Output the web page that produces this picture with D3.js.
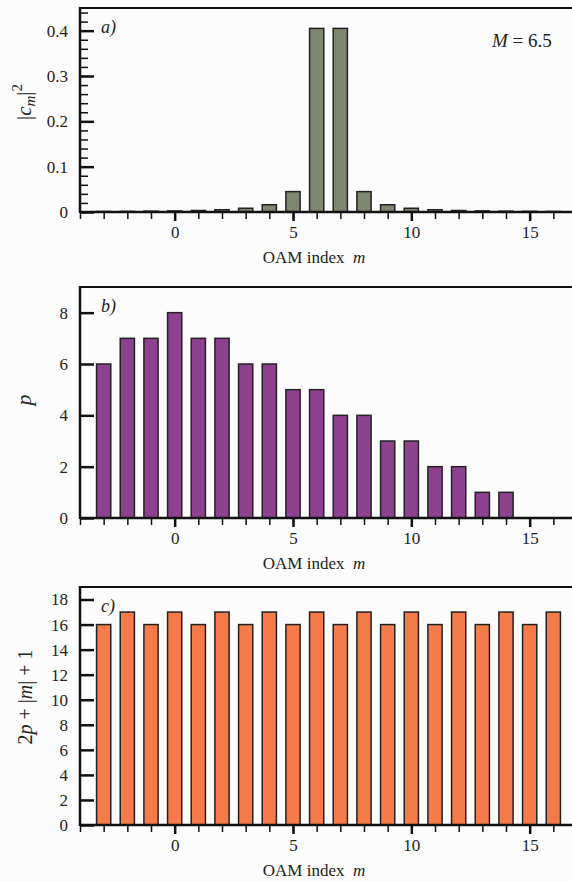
<!DOCTYPE html>
<html>
<head>
<meta charset="utf-8">
<script src="https://d3js.org/d3.v7.min.js"></script>
<style>
  body { margin: 0; background: #fcfcfc; }
  svg text { font-family: "Liberation Serif", "Times New Roman", serif !important; fill: #222; }
</style>
</head>
<body>
<script>
// OAM index m for every bar
const mIndex = [-3, -2, -1, 0, 1, 2, 3, 4, 5, 6, 7, 8, 9, 10, 11, 12, 13, 14, 15, 16];
// panel a) |c_m|^2 for M = 6.5
const cmSquared = [0.0011, 0.0014, 0.0018, 0.0024, 0.0033, 0.005, 0.0083, 0.016, 0.045, 0.405,
                   0.405, 0.045, 0.016, 0.0083, 0.005, 0.0033, 0.0024, 0.0018, 0.0014, 0.0011];
// panel b) radial index p
const radialP = [6, 7, 7, 8, 7, 7, 6, 6, 5, 5, 4, 4, 3, 3, 2, 2, 1, 1, 0, 0];
// panel c) 2p + |m| + 1
const modeOrder = [16, 17, 16, 17, 16, 17, 16, 17, 16, 17, 16, 17, 16, 17, 16, 17, 16, 17, 16, 17];

const xMajor = [0, 5, 10, 15];
const xMinor = d3.range(-4, 18);

const w = 572, h = 882;
const left = 80;
const svg = d3.select('body').append('svg').attr('width', w).attr('height', h);

const x = d3.scaleLinear().domain([-4, 17]).range([left, 577]);
const barW = 0.6;

function panel(cfg) {
  const y = d3.scaleLinear().domain(cfg.domain).range([cfg.bottom, cfg.top]);
  const g = svg.append('g');

  g.selectAll('rect.bar')
    .data(mIndex.map((m, i) => ({ m: m, v: cfg.values[i] })))
    .enter()
    .append('rect')
    .attr('class', 'bar')
    .attr('x', d => x(d.m - barW / 2))
    .attr('width', x(barW) - x(0))
    .attr('y', d => y(d.v))
    .attr('height', d => y(0) - y(d.v))
    .attr('fill', cfg.color)
    .attr('stroke', '#222')
    .attr('stroke-width', 1.5);

  // top frame line
  g.append('line')
    .attr('x1', left).attr('x2', w)
    .attr('y1', cfg.top).attr('y2', cfg.top)
    .attr('stroke', '#111').attr('stroke-width', 2);

  // x minor ticks
  g.append('g')
    .attr('transform', `translate(0,${cfg.bottom})`)
    .call(d3.axisBottom(x).tickValues(xMinor).tickSize(7).tickSizeOuter(0).tickFormat(''))
    .call(a => a.select('.domain').remove())
    .call(a => a.selectAll('line').attr('stroke', '#111').attr('stroke-width', 1.5));

  // x major ticks
  g.append('g')
    .attr('transform', `translate(0,${cfg.bottom})`)
    .call(d3.axisBottom(x).tickValues(xMajor).tickSize(9).tickSizeOuter(0).tickPadding(5))
    .call(a => a.select('.domain').attr('stroke', '#111').attr('stroke-width', 2.5).attr('d', `M${left},0H${w}`))
    .call(a => a.selectAll('line').attr('stroke', '#111').attr('stroke-width', 2.5))
    .call(a => a.selectAll('text').attr('font-size', 17).attr('fill', '#222'));

  // y minor ticks
  if (cfg.yMinor) {
    g.append('g')
      .attr('transform', `translate(${left},0)`)
      .call(d3.axisLeft(y).tickValues(cfg.yMinor).tickSize(-8).tickSizeOuter(0).tickFormat(''))
      .call(a => a.select('.domain').remove())
      .call(a => a.selectAll('line').attr('stroke', '#111').attr('stroke-width', 1.5));
  }

  // y major ticks
  g.append('g')
    .attr('transform', `translate(${left},0)`)
    .call(d3.axisLeft(y).tickValues(cfg.yMajor).tickSize(-14).tickSizeOuter(0).tickPadding(12).tickFormat(cfg.fmt))
    .call(a => a.select('.domain').attr('stroke', '#111').attr('stroke-width', 2.5)
      .attr('d', `M0,${cfg.bottom + 1}V${cfg.top - 1}`))
    .call(a => a.selectAll('line').attr('stroke', '#111').attr('stroke-width', 2.5))
    .call(a => a.selectAll('text').attr('font-size', 17).attr('fill', '#222'));

  // x title
  const xt = g.append('text')
    .attr('x', 314).attr('y', cfg.bottom + 51)
    .attr('text-anchor', 'middle')
    .attr('font-size', 17);
  xt.append('tspan').text('OAM index\u00a0\u00a0');
  xt.append('tspan').attr('font-style', 'italic').text('m');

  // panel letter
  g.append('text')
    .attr('x', 101).attr('y', cfg.top + 25)
    .attr('font-size', 18).attr('font-style', 'italic')
    .text(cfg.letter);

  return { g: g, y: y };
}

// a)
const pa = panel({
  values: cmSquared, color: '#7e8770', top: 8, bottom: 212, domain: [0, 0.45],
  yMajor: [0, 0.1, 0.2, 0.3, 0.4], yMinor: d3.range(0, 0.45, 0.02),
  fmt: d => d === 0 ? '0' : d3.format('.1f')(d), letter: 'a)'
});
const mt = pa.g.append('text').attr('x', 492).attr('y', 47).attr('font-size', 19);
mt.append('tspan').attr('font-style', 'italic').text('M');
mt.append('tspan').text(' = 6.5');

const ya = pa.g.append('text')
  .attr('transform', 'translate(31,102) rotate(-90)')
  .attr('text-anchor', 'middle').attr('font-size', 21);
ya.append('tspan').text('|');
ya.append('tspan').attr('font-style', 'italic').text('c');
ya.append('tspan').attr('font-style', 'italic').attr('font-size', 15).attr('dy', 4).text('m');
ya.append('tspan').attr('dy', -4).text('|');
ya.append('tspan').attr('font-size', 15).attr('dy', -9).text('2');

// b)
const pb = panel({
  values: radialP, color: '#8e418f', top: 287, bottom: 518, domain: [0, 9],
  yMajor: [0, 2, 4, 6, 8], yMinor: null, fmt: d3.format('d'), letter: 'b)'
});
pb.g.append('text')
  .attr('transform', 'translate(31,400) rotate(-90)')
  .attr('text-anchor', 'middle').attr('font-size', 22).attr('font-style', 'italic')
  .text('p');

// c)
const pc = panel({
  values: modeOrder, color: '#f57b4a', top: 587, bottom: 825, domain: [0, 19],
  yMajor: d3.range(0, 19, 2), yMinor: null, fmt: d3.format('d'), letter: 'c)'
});
const yc = pc.g.append('text')
  .attr('transform', 'translate(32,697) rotate(-90)')
  .attr('text-anchor', 'middle').attr('font-size', 20);
yc.append('tspan').text('2');
yc.append('tspan').attr('font-style', 'italic').text('p');
yc.append('tspan').text(' + |');
yc.append('tspan').attr('font-style', 'italic').text('m');
yc.append('tspan').text('| + 1');
</script>
</body>
</html>
